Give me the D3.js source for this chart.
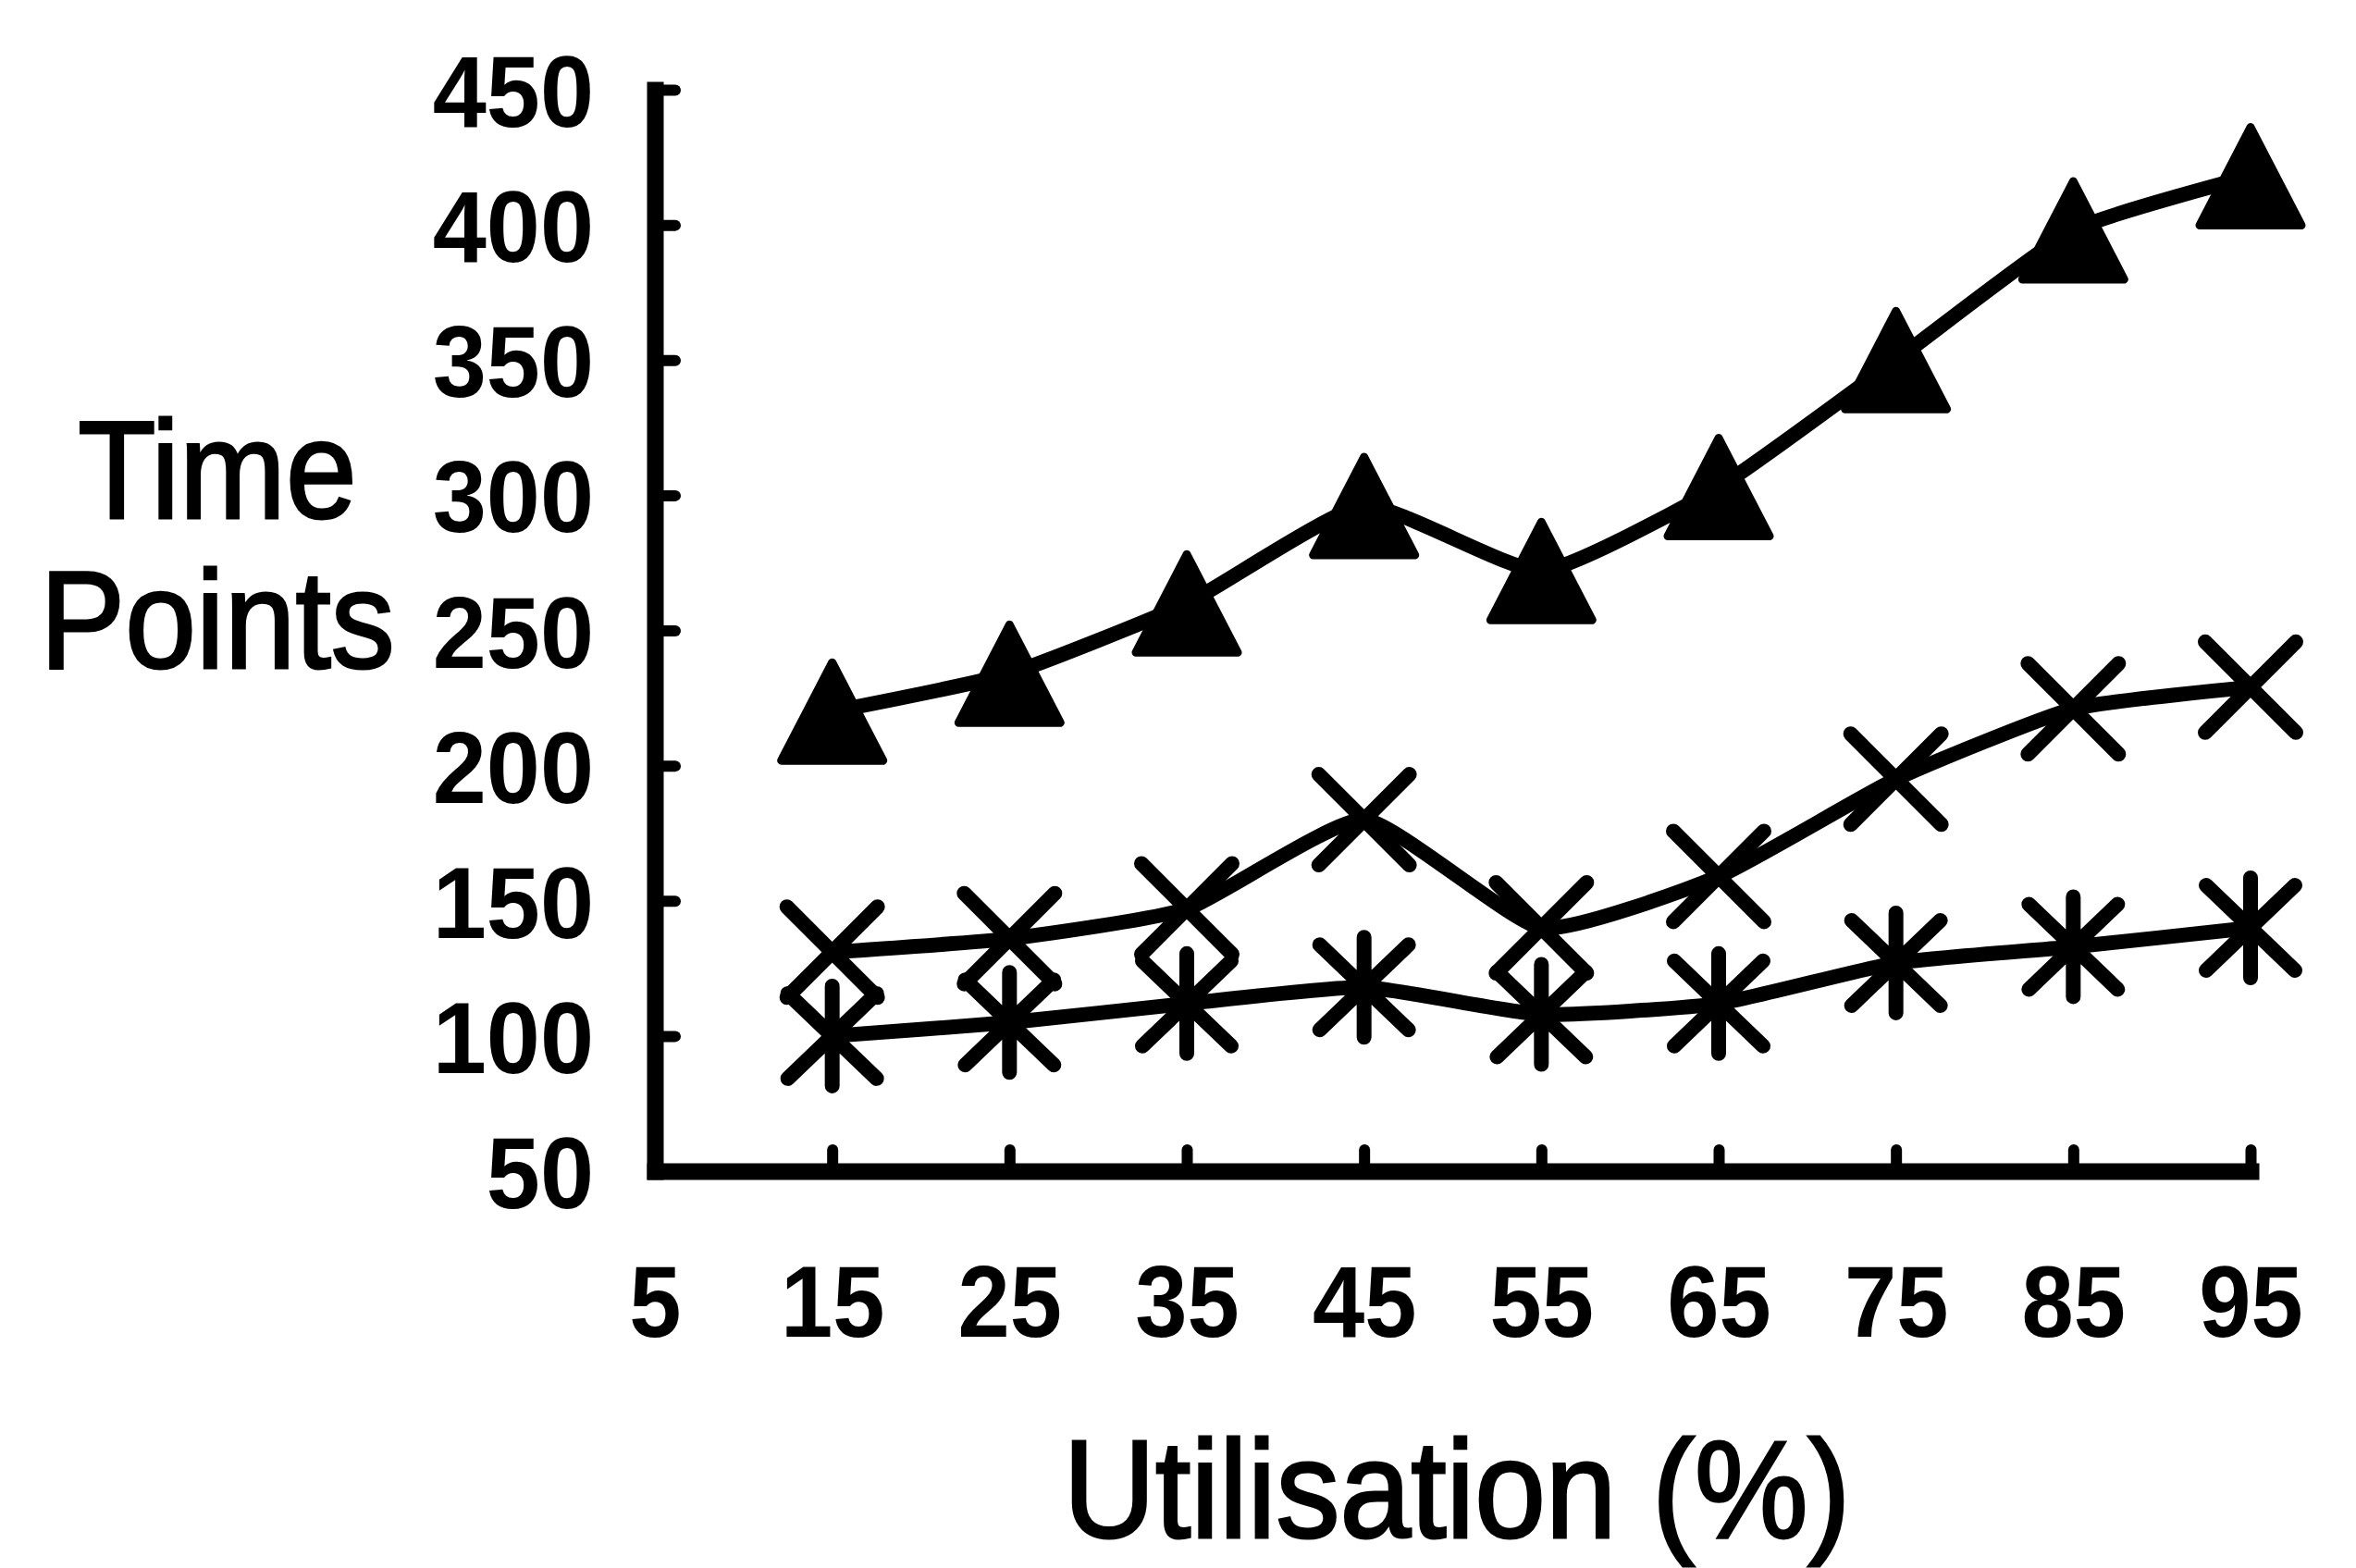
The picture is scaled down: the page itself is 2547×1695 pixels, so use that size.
<!DOCTYPE html>
<html>
<head>
<meta charset="utf-8">
<script src="https://cdn.jsdelivr.net/npm/d3@7/dist/d3.min.js"></script>
<style>
  html, body { margin: 0; padding: 0; background: #ffffff; }
  svg { display: block; }
  text { font-family: "Liberation Sans", Arial, Helvetica, sans-serif; fill: #000; }
</style>
</head>
<body>
<svg id="chart" width="2547" height="1695"></svg>
<script>
// Categories along the utilisation axis (%), and the points where series are measured
const categories = ["5", "15", "25", "35", "45", "55", "65", "75", "85", "95"];
const measured = ["15", "25", "35", "45", "55", "65", "75", "85", "95"];

// Time points per utilisation level, one array per series
const triangleSeries = [220, 234, 260, 296, 272, 303, 350, 398, 418];
const crossSeries    = [131, 136, 147, 180, 140, 159, 195, 221, 229];
const asteriskSeries = [100, 105, 112, 118, 108, 112, 127, 133, 140];

// Y tick labels
const yTicks = [50, 100, 150, 200, 250, 300, 350, 400, 450];

const svg = d3.select("#chart");
svg.append("rect").attr("width", 2547).attr("height", 1695).attr("fill", "#fff");

const x = d3.scalePoint().domain(categories).range([708, 2433]);
const y = d3.scaleLinear().domain([50, 450]).range([1266, 97]);

// ---- axes ----
const gY = svg.append("g")
  .attr("transform", "translate(708,0)")
  .call(d3.axisLeft(y).tickValues(yTicks).tickSizeInner(-22).tickSizeOuter(0).tickPadding(66));

const gX = svg.append("g")
  .attr("transform", "translate(0,1266)")
  .call(d3.axisBottom(x).tickSizeInner(-23).tickSizeOuter(0));

[gY, gX].forEach(g => {
  g.select(".domain").attr("stroke", "#000").attr("stroke-width", 18).attr("stroke-linecap", "square");
  g.selectAll(".tick line").attr("stroke", "#000").attr("stroke-width", 12).attr("stroke-linecap", "round");
  g.selectAll(".tick text")
    .style("font-size", "110px")
    .style("font-weight", "bold")
    .attr("fill", "#000");
});

gY.selectAll(".tick text")
  .attr("x", null)
  .attr("dy", "0.36em")
  .attr("text-anchor", "end")
  .attr("transform", "translate(-66,0) scale(0.95,1)");

gX.selectAll(".tick text")
  .attr("y", null)
  .attr("dy", null)
  .attr("text-anchor", "middle")
  .attr("transform", "translate(0,179) scale(0.92,1)");

// no tick mark at the origin category
gX.selectAll(".tick").filter(d => d === "5").select("line").remove();

// ---- axis titles ----
const yTitle = svg.append("g").attr("transform", "translate(235,0)");
[["Time", 560], ["Points", 722]].forEach(([t, yy]) => {
  yTitle.append("text")
    .attr("transform", `translate(0,${yy}) scale(0.92,1)`)
    .attr("text-anchor", "middle")
    .style("font-size", "150px")
    .attr("stroke", "#000").attr("stroke-width", 3)
    .text(t);
});

svg.append("text")
  .attr("transform", "translate(1575,1662) scale(0.92,1)")
  .attr("text-anchor", "middle")
  .style("font-size", "150px")
  .attr("stroke", "#000").attr("stroke-width", 3)
  .text("Utilisation (%)");

// ---- series lines (lightly smoothed) ----
const line = d3.line()
  .x((d, i) => x(measured[i]))
  .y(d => y(d))
  .curve(d3.curveCardinal.tension(0.5));

const plot = svg.append("g");
[triangleSeries, crossSeries, asteriskSeries].forEach(s => {
  plot.append("path")
    .datum(s)
    .attr("d", line)
    .attr("fill", "none")
    .attr("stroke", "#000")
    .attr("stroke-width", 16)
    .attr("stroke-linejoin", "round")
    .attr("stroke-linecap", "round");
});

// ---- markers ----
const trianglePath = "M0,-53L55,53L-55,53Z";
const crossPath = "M-49,-49L49,49M49,-49L-49,49";
const asteriskPath = "M-48,-46L48,46M48,-46L-48,46M0,-54L0,54";

function drawMarkers(series, pathD, filled) {
  plot.append("g").selectAll("path")
    .data(series)
    .join("path")
    .attr("transform", (d, i) => `translate(${x(measured[i])},${y(d)})`)
    .attr("d", pathD)
    .attr("fill", filled ? "#000" : "none")
    .attr("stroke", "#000")
    .attr("stroke-width", filled ? 9 : 16)
    .attr("stroke-linejoin", "round")
    .attr("stroke-linecap", "round");
}

drawMarkers(triangleSeries, trianglePath, true);
drawMarkers(crossSeries, crossPath, false);
drawMarkers(asteriskSeries, asteriskPath, false);
</script>
</body>
</html>
